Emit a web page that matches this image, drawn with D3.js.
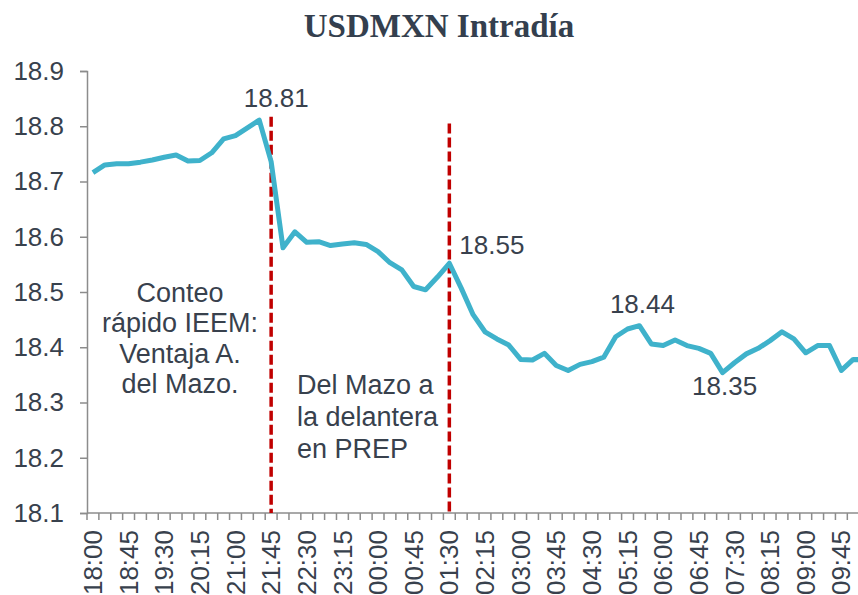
<!DOCTYPE html>
<html>
<head>
<meta charset="utf-8">
<script src="https://cdn.jsdelivr.net/npm/d3@7"></script>
<style>
  body { margin: 0; background: #fff; }
  text { font-family: "Liberation Sans", Arial, sans-serif; fill: #38414d; }
</style>
</head>
<body>
<div id="chart"></div>
<script>
// horas (cada 15 min)
const times = [
  "18:00","18:15","18:30","18:45","19:00","19:15","19:30","19:45",
  "20:00","20:15","20:30","20:45","21:00","21:15","21:30","21:45",
  "22:00","22:15","22:30","22:45","23:00","23:15","23:30","23:45",
  "00:00","00:15","00:30","00:45","01:00","01:15","01:30","01:45",
  "02:00","02:15","02:30","02:45","03:00","03:15","03:30","03:45",
  "04:00","04:15","04:30","04:45","05:00","05:15","05:30","05:45",
  "06:00","06:15","06:30","06:45","07:00","07:15","07:30","07:45",
  "08:00","08:15","08:30","08:45","09:00","09:15","09:30","09:45",
  "10:00","10:15"
];

// tipo de cambio USDMXN
const usdmxn = [
  18.716, 18.730, 18.732, 18.732, 18.735, 18.739, 18.744, 18.748,
  18.737, 18.738, 18.752, 18.777, 18.783, 18.797, 18.811, 18.736,
  18.580, 18.609, 18.590, 18.591, 18.584, 18.587, 18.589, 18.586,
  18.573, 18.553, 18.540, 18.510, 18.504, 18.527, 18.552, 18.507,
  18.459, 18.428, 18.415, 18.404, 18.378, 18.377, 18.389, 18.367,
  18.358, 18.369, 18.374, 18.382, 18.419, 18.433, 18.439, 18.406,
  18.403, 18.413, 18.403, 18.398, 18.389, 18.354, 18.372, 18.388,
  18.398, 18.412, 18.428, 18.415, 18.390, 18.403, 18.403, 18.358,
  18.378, 18.377
];

const yTicks = [18.1, 18.2, 18.3, 18.4, 18.5, 18.6, 18.7, 18.8, 18.9];

// etiquetas de valores
const valueLabels = [
  { time: "21:30", text: "18.81" },
  { time: "01:30", text: "18.55" },
  { time: "05:30", text: "18.44" },
  { time: "07:15", text: "18.35" }
];

// eventos (lineas rojas)
const eventTimes = ["21:45", "01:30"];
const eventTops = [18.817, 18.805];

const note1 = ["Conteo", "rápido IEEM:", "Ventaja A.", "del Mazo."];
const note2 = ["Del Mazo a", "la delantera", "en PREP"];

const width = 858, height = 595;
const svg = d3.select("#chart").append("svg")
  .attr("width", width).attr("height", height);

const mLeft = 87, mBottom = 513, mTop = 71;
const step = 11.88;

const x = d3.scaleBand()
  .domain(times)
  .range([mLeft, mLeft + step * times.length])
  .paddingInner(0).paddingOuter(0);
const xc = t => x(t) + x.bandwidth() / 2;

const y = d3.scaleLinear().domain([18.1, 18.9]).range([mBottom, mTop]);

// titulo
svg.append("text")
  .attr("x", 439).attr("y", 37)
  .attr("text-anchor", "middle")
  .style("font-family", "'Liberation Serif', 'Times New Roman', serif")
  .style("font-weight", "bold")
  .style("font-size", "33px")
  .style("fill", "#343f4e")
  .text("USDMXN Intradía");

// eje Y
const yAxis = svg.append("g")
  .attr("transform", `translate(${mLeft},0)`)
  .call(d3.axisLeft(y).tickValues(yTicks).tickFormat(d3.format(".1f"))
    .tickSize(7).tickPadding(16));
yAxis.select(".domain").attr("stroke", "#8c8c8c").attr("stroke-width", 1.5);
yAxis.selectAll(".tick line").attr("stroke", "#8c8c8c").attr("stroke-width", 1.5);
yAxis.selectAll(".tick text")
  .style("font-family", "'Liberation Sans', Arial, sans-serif")
  .style("font-size", "26px").style("fill", "#38414d");

// eje X
svg.append("line")
  .attr("x1", mLeft).attr("x2", width)
  .attr("y1", mBottom).attr("y2", mBottom)
  .attr("stroke", "#8c8c8c").attr("stroke-width", 1.5);

svg.append("g").selectAll("line")
  .data(times)
  .join("line")
  .attr("x1", d => x(d)).attr("x2", d => x(d))
  .attr("y1", mBottom).attr("y2", mBottom + 7)
  .attr("stroke", "#8c8c8c").attr("stroke-width", 1.5);

svg.append("g").selectAll("text")
  .data(times.filter((d, i) => i % 3 === 0))
  .join("text")
  .attr("transform", d => `translate(${xc(d)},${mBottom + 17}) rotate(-90)`)
  .attr("text-anchor", "end")
  .attr("dy", "0.35em")
  .style("font-size", "26px")
  .text(d => d);

// lineas de eventos
svg.append("g").selectAll("line")
  .data(eventTimes)
  .join("line")
  .attr("x1", d => xc(d)).attr("x2", d => xc(d))
  .attr("y1", (d, i) => y(eventTops[i])).attr("y2", mBottom)
  .attr("stroke", "#c00000")
  .attr("stroke-width", 3.5)
  .attr("stroke-dasharray", "10,4");

// serie
const line = d3.line()
  .x((d, i) => xc(times[i]))
  .y(d => y(d));

svg.append("path")
  .datum(usdmxn)
  .attr("fill", "none")
  .attr("stroke", "#3fb2cb")
  .attr("stroke-width", 5)
  .attr("stroke-linejoin", "round")
  .attr("d", line);

// etiquetas de valores
const labelOffsets = [
  { dx: 17, dy: -13, anchor: "middle" },
  { dx: 10, dy: -9, anchor: "start" },
  { dx: 3, dy: -13, anchor: "middle" },
  { dx: 2, dy: 22, anchor: "middle" }
];
svg.append("g").selectAll("text")
  .data(valueLabels)
  .join("text")
  .attr("x", (d, i) => xc(d.time) + labelOffsets[i].dx)
  .attr("y", (d, i) => y(usdmxn[times.indexOf(d.time)]) + labelOffsets[i].dy)
  .attr("text-anchor", (d, i) => labelOffsets[i].anchor)
  .style("font-size", "26px")
  .text(d => d.text);

// notas
svg.append("text")
  .attr("text-anchor", "middle")
  .style("font-size", "27px")
  .selectAll("tspan")
  .data(note1)
  .join("tspan")
  .attr("x", 180)
  .attr("y", (d, i) => 302 + i * 30.3)
  .text(d => d);

svg.append("text")
  .attr("text-anchor", "start")
  .style("font-size", "27px")
  .selectAll("tspan")
  .data(note2)
  .join("tspan")
  .attr("x", 297)
  .attr("y", (d, i) => 394 + i * 32)
  .text(d => d);
</script>
</body>
</html>
